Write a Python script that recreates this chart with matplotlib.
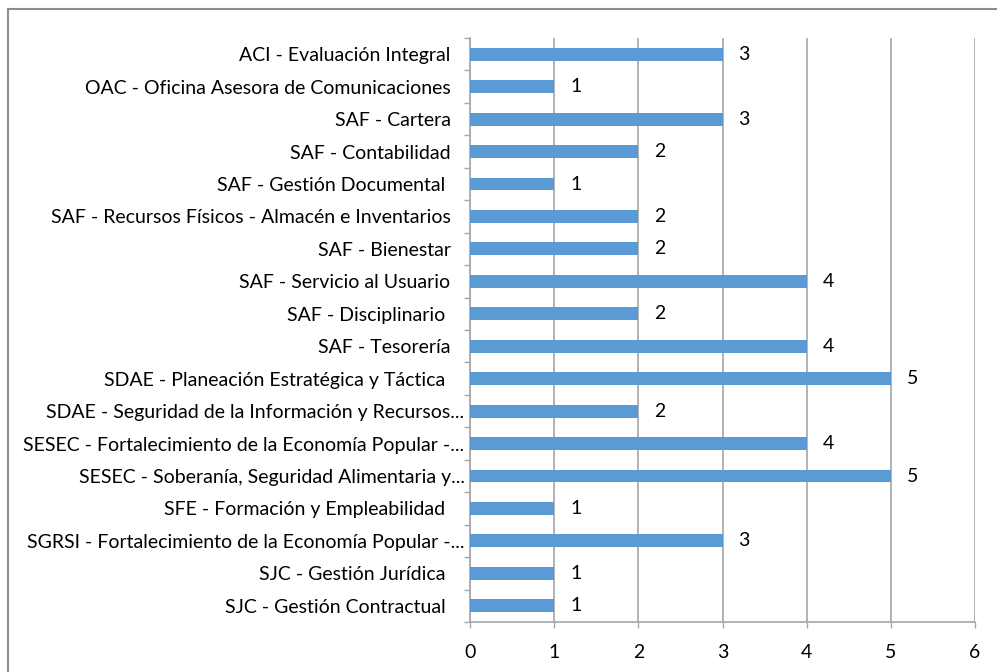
import matplotlib.pyplot as plt
from matplotlib.patches import Rectangle
from matplotlib.transforms import ScaledTranslation

# data (top to bottom as shown)
categories = [
    "ACI - Evaluación Integral",
    "OAC - Oficina Asesora de Comunicaciones",
    "SAF - Cartera",
    "SAF - Contabilidad",
    "SAF - Gestión Documental ",
    "SAF - Recursos Físicos - Almacén e Inventarios",
    "SAF - Bienestar",
    "SAF - Servicio al Usuario",
    "SAF - Disciplinario ",
    "SAF - Tesorería",
    "SDAE - Planeación Estratégica y Táctica ",
    "SDAE - Seguridad de la Información y Recursos...",
    "SESEC - Fortalecimiento de la Economía Popular -...",
    "SESEC - Soberanía, Seguridad Alimentaria y...",
    "SFE - Formación y Empleabilidad ",
    "SGRSI - Fortalecimiento de la Economía Popular -...",
    "SJC - Gestión Jurídica ",
    "SJC - Gestión Contractual ",
]
values = [3, 1, 3, 2, 1, 2, 2, 4, 2, 4, 5, 2, 4, 5, 1, 3, 1, 1]
xticks = [0, 1, 2, 3, 4, 5, 6]

plt.rcParams['font.family'] = ['Lato', 'DejaVu Sans']
FS = 14

fig = plt.figure(figsize=(9.97, 6.72), dpi=100)
ax = fig.add_axes([470/997, 50/672, 505/997, 584/672])

pos = list(range(len(categories)))
ax.barh(pos, values, height=0.4, color='#5B9BD5', zorder=3)
for p, v in zip(pos, values):
    ax.annotate(str(v), (v, p), xytext=(15.5, 0), textcoords='offset points',
                va='center', ha='center', fontsize=FS, color='#000000')

ax.set_xlim(0, 6)
ax.set_ylim(len(categories) - 0.5, -0.5)
ax.set_xticks(xticks)
ax.set_xticklabels([str(t) for t in xticks], fontsize=FS)
ax.set_yticks(pos)
ax.set_yticklabels(categories, fontsize=FS)
ax.tick_params(axis='y', length=0, pad=14)
ax.set_yticks([p + 0.5 for p in range(-1, len(categories))], minor=True)
ax.tick_params(axis='y', which='minor', length=4.5, color='#A6A6A6', width=1)
ax.tick_params(axis='x', length=4.5, color='#A6A6A6', width=1, pad=11)

# truncated labels sit closer to the axis
for lab in ax.get_yticklabels():
    if lab.get_text().endswith('...'):
        lab.set_transform(lab.get_transform() +
                          ScaledTranslation(14/100, 0, fig.dpi_scale_trans))

ax.grid(axis='x', color='#A6A6A6', linewidth=1.2, zorder=0)
for s in ['top', 'right']:
    ax.spines[s].set_visible(False)
for s in ['left', 'bottom']:
    ax.spines[s].set_color('#A6A6A6')
    ax.spines[s].set_linewidth(1.2)

# chart frame (cropped at right and bottom)
fig.patches.append(Rectangle((8/997, -0.1), 1.2, (672 - 9)/672 + 0.1,
                             transform=fig.transFigure, fill=False,
                             edgecolor='#8C8C8C', linewidth=1.5))

fig.savefig('out.png', dpi=100)
